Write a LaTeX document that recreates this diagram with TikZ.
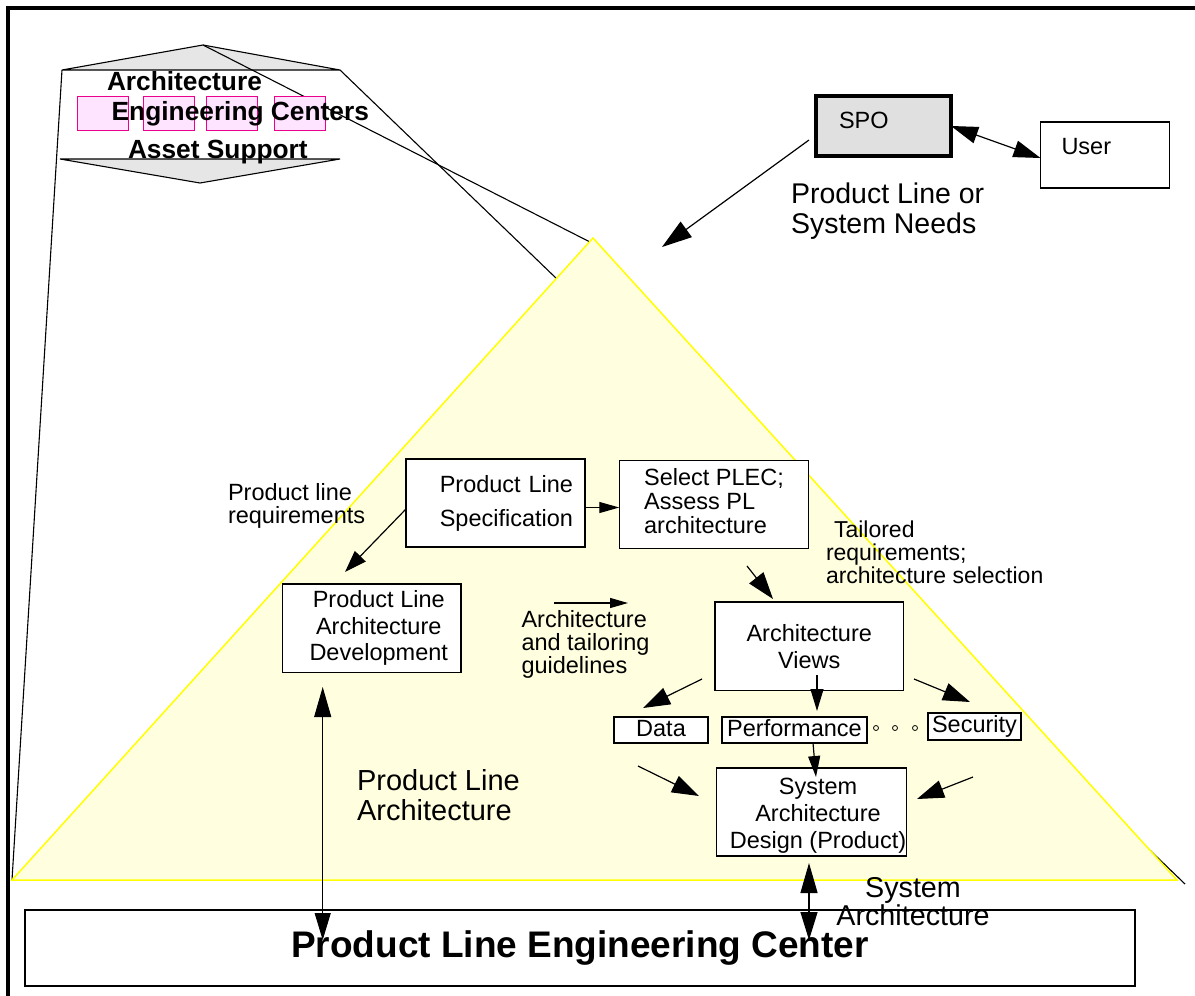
\documentclass[tikz,border=0pt]{standalone}
\usepackage{fontspec}
\setmainfont{Liberation Sans}
\usetikzlibrary{arrows.meta}
\definecolor{triyellow}{RGB}{255,255,224}
\definecolor{triedge}{RGB}{255,255,0}
\definecolor{pinkfill}{RGB}{255,228,255}
\definecolor{shapegray}{RGB}{230,230,230}
\definecolor{spogray}{RGB}{224,224,224}
\newcommand\setfs[2]{\fontsize{#1}{#2}\selectfont}
\begin{document}
\begin{tikzpicture}[x=1pt,y=-1pt,
  box/.style={draw, line width=1.2pt, fill=white, inner sep=0pt, outer sep=0pt, font=\setfs{23.5}{26}},
  smallbox/.style={box, text height=17pt, text depth=5pt},
  lbl/.style={inner sep=0pt, outer sep=0pt, font=\setfs{23.5}{23}},
  boldlbl/.style={inner sep=0pt, outer sep=0pt, anchor=base west, font=\setfs{26.3}{28}\bfseries},
  pinkbox/.style={draw=magenta, fill=pinkfill, line width=1pt, minimum width=51pt, minimum height=34pt, inner sep=0pt},
  dotc/.style={circle, draw, line width=0.8pt, minimum size=5pt, inner sep=0pt},
  arr/.style={line width=1.2pt},
  thin/.style={line width=1.1pt}
]
\useasboundingbox (0,0) rectangle (1195,996);
\fill[white] (0,0) rectangle (1195,996);
\draw[line width=4pt] (8,1010) -- (8,8) -- (1210,8);

% top-left shape
\draw[thin, fill=shapegray] (62,70) -- (203,45) -- (340,70) -- cycle;
\draw[thin, fill=shapegray] (60,159) -- (340,159) -- (200,183) -- cycle;

% projection lines
\draw[thin] (62,70) -- (12,880);
\draw[thin] (203,45) -- (590,242);
\draw[thin] (340,70) -- (1185,884);

% pyramid
\draw[triedge, fill=triyellow, line width=1.5pt] (593,238) -- (1177,880) -- (12,880) -- cycle;

% pink boxes and titles
\node[pinkbox] (pk1) at (102.5,113) {};
\node[pinkbox] (pk2) at (168.5,113) {};
\node[pinkbox] (pk3) at (231.5,113) {};
\node[pinkbox] (pk4) at (299.5,113) {};
\node[boldlbl] (tla) at (107,90.7) {Architecture};
\node[boldlbl] (tlb) at (111.7,120.7) {Engineering Centers};
\node[boldlbl] (tlc) at (128,158.3) {Asset Support};

% SPO / User
\node[box, fill=spogray, line width=3.5pt, minimum width=135pt, minimum height=60pt, text width=89pt, align=left, text height=17pt, text depth=12pt] (spo) at (883.5,126) {SPO};
\node[box, minimum width=129pt, minimum height=66pt, text width=87pt, align=left, text height=17pt, text depth=18pt] (user) at (1105,155) {User};
\node[lbl, anchor=base west, align=left, font=\setfs{28.5}{30}] (needs) at (791,233) {Product Line or\\System Needs};

% boxes
\node[box, minimum width=179pt, minimum height=88pt, text width=155pt, align=right, font=\setfs{23.5}{34}] (pls) at (495.5,503) {Product Line\\Specification};
\node[box, minimum width=189.5pt, minimum height=88pt, align=left, font=\setfs{23.5}{24}] (sel) at (714,504.5) {Select PLEC;\\Assess PL\\architecture\rule[-8pt]{0pt}{8pt}};
\node[box, minimum width=178.5pt, minimum height=88.5pt, align=center, font=\setfs{23.5}{26.5}] (plad) at (371.75,628.25) {\hspace*{14pt}Product Line\\\hspace*{14pt}Architecture\\\hspace*{14pt}Development};
\node[box, minimum width=188.5pt, minimum height=88.5pt, align=center, font=\setfs{23.5}{27}] (av) at (809.25,646.25) {Architecture\\Views};
\node[smallbox, minimum width=94pt, minimum height=26pt] (data) at (661,730) {Data};
\node[smallbox, minimum width=145pt, minimum height=26pt] (perf) at (794.5,730) {Performance};
\node[smallbox, minimum width=93pt, minimum height=27pt] (sec) at (974.5,726.5) {Security};
\node[box, minimum width=189pt, minimum height=88pt, align=center, font=\setfs{23.5}{27}] (sad) at (811.5,812) {\hspace*{13pt}\rule{0pt}{23pt}System\\\hspace*{13pt}Architecture\\\hspace*{13pt}Design (Product)};
\node[box, minimum width=1110pt, minimum height=76pt, font=\setfs{37}{40}\bfseries] (plec) at (580,948) {Product Line Engineering Center};

\node[dotc] (d1) at (876,728) {};
\node[dotc] (d2) at (895,728) {};
\node[dotc] (d3) at (915,728) {};

% labels (base = baseline of last line)
\node[lbl, anchor=base west, align=left] (reqs) at (228,523) {Product line\\requirements};
\node[lbl, anchor=base west, align=left] (guide) at (521.5,673) {Architecture\\and tailoring\\guidelines};
\node[lbl, anchor=base west, align=left, font=\setfs{23}{23}] (tail) at (826,583) {\hspace*{8pt}Tailored\\requirements;\\architecture selection};
\node[lbl, anchor=base west, align=left, font=\setfs{29}{30}] (pla) at (357,820) {Product Line\\Architecture};
\node[lbl, anchor=base, align=center, font=\setfs{28.7}{25}] (sysa) at (913,925) {System\\Architecture};

% free connector ends
\coordinate (needsA) at (809,140);
\coordinate (needsB) at (662,247);
\coordinate (pladin) at (345,572);
\coordinate (gA) at (554,603);
\coordinate (gB) at (628,603);
\coordinate (selout) at (747,566);
\coordinate (avin) at (773,599);
\coordinate (avd) at (702,679);
\coordinate (datain) at (643,708);
\coordinate (avp) at (817,675);
\coordinate (perfin) at (817,711);
\coordinate (avs) at (914,679);
\coordinate (secin) at (970,702);
\coordinate (perfout) at (813,743);
\coordinate (sadtop) at (816,777);
\coordinate (lA) at (638,766);
\coordinate (lB) at (699,796);
\coordinate (rA) at (973,777);
\coordinate (rB) at (917,799);
\coordinate (pladlow) at (322.7,687);
\coordinate (plecl) at (322.7,940);
\coordinate (sadlow) at (809,863);
\coordinate (plecr) at (809,940);

% connectors
\draw[arr, {Triangle[length=27pt,width=17pt]}-{Triangle[length=27pt,width=17pt]}] (spo.east) -- ([yshift=-3pt]user.west);
\draw[arr, -{Triangle[length=30pt,width=19pt]}] (needsA) -- (needsB);
\draw[arr, -{Triangle[length=20pt,width=11pt]}] ([yshift=-4.5pt]pls.east) -- ([yshift=-3pt]sel.west);
\draw[arr, -{Triangle[length=22pt,width=15pt]}] ([yshift=-6pt]pls.west) -- (pladin);
\draw[arr, -{Triangle[length=18pt,width=10pt]}] (gA) -- (gB);
\draw[arr, -{Triangle[length=27pt,width=18pt]}] (selout) -- (avin);
\draw[arr, -{Triangle[length=27pt,width=18pt]}] (avd) -- (datain);
\draw[arr, -{Triangle[length=22pt,width=13pt]}] (avp) -- (perfin);
\draw[arr, -{Triangle[length=27pt,width=18pt]}] (avs) -- (secin);
\draw[arr, -{Triangle[length=21pt,width=12pt]}] (perfout) -- (sadtop);
\draw[arr, -{Triangle[length=27pt,width=18pt]}] (lA) -- (lB);
\draw[arr, -{Triangle[length=27pt,width=18pt]}] (rA) -- (rB);
\draw[line width=1pt, {Triangle[length=30pt,width=17pt]}-{Triangle[length=27pt,width=16pt]}] (pladlow) -- (plecl);
\draw[line width=1.2pt, {Triangle[length=30pt,width=17pt]}-{Triangle[length=28pt,width=17pt]}] (sadlow) -- (plecr);
\end{tikzpicture}
\end{document}
